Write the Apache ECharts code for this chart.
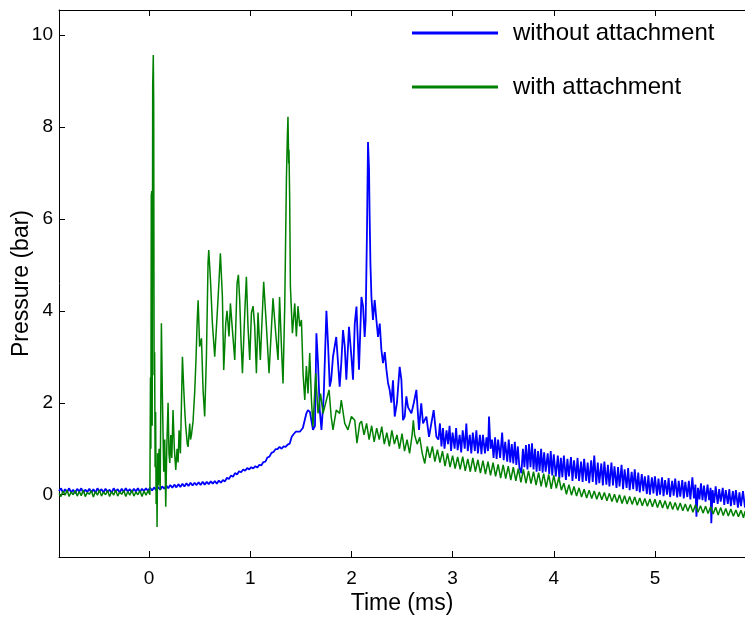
<!DOCTYPE html>
<html>
<head>
<meta charset="utf-8">
<script src="https://cdn.jsdelivr.net/npm/echarts@6/dist/echarts.min.js"></script>
<style>
html,body{margin:0;padding:0;background:#fff;}
#chart{width:745px;height:619px;}
</style>
</head>
<body>
<div id="chart"></div>
<script>
// ---- Data ----
const xTicks = [0, 1, 2, 3, 4, 5];
const yTicks = [0, 2, 4, 6, 8, 10];
const seriesNames = ['without attachment', 'with attachment'];

// without attachment (blue): [time ms, pressure bar]
const blueBaseline = [[-0.89,0.08],[-0.87,0.14],[-0.85,0.04],[-0.83,0.12],[-0.81,0.06],[-0.79,0.14],[-0.77,0.05],[-0.75,0.11],[-0.73,0.03],[-0.71,0.13],[-0.69,0.07],[-0.67,0.14],[-0.65,0.04],[-0.63,0.11],[-0.61,0.06],[-0.59,0.13],[-0.57,0.05],[-0.55,0.12],[-0.53,0.04],[-0.51,0.14],[-0.49,0.07],[-0.47,0.12],[-0.45,0.05],[-0.43,0.13],[-0.41,0.06],[-0.39,0.11],[-0.37,0.04],[-0.35,0.14],[-0.33,0.07],[-0.31,0.12],[-0.29,0.05],[-0.27,0.13],[-0.25,0.06],[-0.23,0.14],[-0.21,0.07],[-0.19,0.12],[-0.17,0.05],[-0.15,0.13],[-0.13,0.07],[-0.11,0.14],[-0.09,0.06],[-0.07,0.13],[-0.05,0.08],[-0.03,0.14],[-0.01,0.08]];
const blueRise = [[0.01,0.15],[0.03,0.09],[0.05,0.16],[0.07,0.1],[0.09,0.17],[0.11,0.11],[0.13,0.18],[0.15,0.13],[0.17,0.2],[0.19,0.14],[0.21,0.21],[0.23,0.15],[0.25,0.22],[0.27,0.16],[0.29,0.23],[0.31,0.17],[0.33,0.24],[0.35,0.18],[0.37,0.25],[0.39,0.19],[0.41,0.26],[0.43,0.2],[0.45,0.26],[0.47,0.21],[0.49,0.27],[0.51,0.21],[0.53,0.28],[0.55,0.22],[0.57,0.28],[0.59,0.23],[0.61,0.29],[0.63,0.24],[0.65,0.3],[0.67,0.24],[0.69,0.31],[0.71,0.26],[0.73,0.32],[0.75,0.29],[0.77,0.37],[0.79,0.34],[0.81,0.42],[0.83,0.39],[0.85,0.47],[0.87,0.44],[0.89,0.51],[0.91,0.49],[0.93,0.55],[0.95,0.52],[0.97,0.58],[0.99,0.55],[1.01,0.6],[1.03,0.57],[1.05,0.62],[1.07,0.59],[1.09,0.65],[1.11,0.64],[1.13,0.71],[1.15,0.72],[1.17,0.81],[1.19,0.83],[1.21,0.91],[1.23,0.93],[1.25,0.99],[1.27,0.99],[1.29,1.04],[1.31,1.0],[1.33,1.05],[1.35,1.04],[1.37,1.09],[1.39,1.11],[1.41,1.26],[1.43,1.32],[1.45,1.37],[1.47,1.37]];
const bluePeak = [[1.49,1.37],[1.52,1.45],[1.555,1.77],[1.57,1.84],[1.59,1.8],[1.62,1.41],[1.64,1.5],[1.654,3.51],[1.67,2.86],[1.687,1.84],[1.704,1.41],[1.726,2.13],[1.753,4.0],[1.77,3.23],[1.786,2.35],[1.8,2.5],[1.818,3.0],[1.85,3.43],[1.868,2.86],[1.884,2.35],[1.9,2.86],[1.917,3.58],[1.934,3.23],[1.95,2.5],[1.976,3.65],[2.0,3.0],[2.016,2.5],[2.033,3.72],[2.05,4.09],[2.075,2.72],[2.099,4.3],[2.115,4.1],[2.131,3.43],[2.141,3.8],[2.154,5.75],[2.164,7.67],[2.174,7.1],[2.18,6.08],[2.188,5.03],[2.198,4.3],[2.213,3.8],[2.23,4.23],[2.247,3.8],[2.263,3.43],[2.28,3.72],[2.296,3.16],[2.312,2.86],[2.33,3.1],[2.346,2.72],[2.362,2.43],[2.378,2.28],[2.395,2.0],[2.411,2.49],[2.428,1.7],[2.45,2.0],[2.477,2.78],[2.494,2.5],[2.51,1.62],[2.527,1.7],[2.543,2.14],[2.56,1.9],[2.593,1.77],[2.617,2.0],[2.642,2.28],[2.668,1.41],[2.69,1.99],[2.708,1.55],[2.741,1.7],[2.767,1.26],[2.79,1.55],[2.813,1.84],[2.84,1.26]];
const blueTail = [[2.86,1.2],[2.875,1.55],[2.89,1.05],[2.905,1.45],[2.92,1.0],[2.94,1.4],[2.955,1.1],[2.97,1.5],[2.985,0.95],[3.0,1.35],[3.02,1.0],[3.035,1.45],[3.05,0.97],[3.07,1.3],[3.085,0.92],[3.1,1.4],[3.12,1.0],[3.136,1.55],[3.15,0.95],[3.17,1.3],[3.185,0.9],[3.2,1.35],[3.22,0.95],[3.235,1.4],[3.25,0.9],[3.27,1.3],[3.285,0.88],[3.3,1.3],[3.32,0.9],[3.335,1.25],[3.35,0.95],[3.36,1.7],[3.375,1.0],[3.39,1.2],[3.405,0.8],[3.42,1.25],[3.435,0.78],[3.45,1.2],[3.47,0.8],[3.49,1.35],[3.505,0.75],[3.52,1.15],[3.54,0.72],[3.555,1.2],[3.57,0.7],[3.585,1.1],[3.6,0.68],[3.615,1.15],[3.63,0.65],[3.645,1.05],[3.66,0.6],[3.68,0.47],[3.695,1.0],[3.71,0.6],[3.725,1.08],[3.74,0.55],[3.755,1.1],[3.77,0.6],[3.785,1.12],[3.8,0.55],[3.815,1.0],[3.83,0.5],[3.845,0.95],[3.86,0.52],[3.875,1.0],[3.89,0.48],[3.905,0.92],[3.92,0.5],[3.94,0.9],[3.955,0.45],[3.97,0.95],[3.985,0.42],[4.0,0.88],[4.02,0.4],[4.04,0.85],[4.055,0.35],[4.07,0.8],[4.085,0.38],[4.1,0.85],[4.12,0.32],[4.135,0.78],[4.15,0.4],[4.17,0.82],[4.185,0.3],[4.2,0.75],[4.22,0.35],[4.235,0.8],[4.25,0.3],[4.27,0.72],[4.285,0.28],[4.3,0.78],[4.32,0.3],[4.335,0.7],[4.35,0.25],[4.37,0.75],[4.385,0.28],[4.4,0.85],[4.42,0.22],[4.435,0.7],[4.45,0.25],[4.47,0.68],[4.485,0.2],[4.5,0.72],[4.52,0.22],[4.535,0.65],[4.55,0.18],[4.57,0.7],[4.585,0.2],[4.6,0.62],[4.62,0.15],[4.635,0.6],[4.65,0.18],[4.67,0.65],[4.685,0.12],[4.7,0.55],[4.72,0.15],[4.735,0.58],[4.75,0.1],[4.77,0.5],[4.785,0.12],[4.8,0.55],[4.82,0.08],[4.835,0.48],[4.85,0.05],[4.87,0.45],[4.885,0.08],[4.9,0.4],[4.92,0.02],[4.935,0.42],[4.95,0.0],[4.97,0.38],[4.985,0.03],[5.0,0.4],[5.02,-0.02],[5.035,0.35],[5.05,0.0],[5.07,0.38],[5.085,-0.03],[5.1,0.32],[5.12,0.0],[5.135,0.36],[5.15,-0.05],[5.17,0.3],[5.185,-0.02],[5.2,0.35],[5.22,-0.06],[5.235,0.3],[5.25,-0.04],[5.27,0.32],[5.285,-0.08],[5.3,0.28],[5.32,-0.05],[5.335,0.3],[5.35,-0.1],[5.37,0.38],[5.385,-0.08],[5.4,0.22],[5.41,-0.48],[5.425,0.15],[5.44,-0.1],[5.455,0.25],[5.47,-0.12],[5.485,0.2],[5.5,-0.15],[5.52,0.22],[5.535,-0.12],[5.55,0.15],[5.557,-0.62],[5.57,0.1],[5.585,-0.18],[5.6,0.18],[5.62,-0.2],[5.635,0.12],[5.65,-0.15],[5.67,0.15],[5.685,-0.22],[5.7,0.1],[5.72,-0.2],[5.735,0.12],[5.75,-0.25],[5.77,0.08],[5.785,-0.22],[5.8,0.1],[5.82,-0.28],[5.835,0.05],[5.85,-0.25],[5.87,0.08],[5.89,-0.28]];

// with attachment (green): [time ms, pressure bar]
const greenBaseline = [[-0.89,0.03],[-0.87,-0.04],[-0.85,0.08],[-0.83,-0.01],[-0.81,0.1],[-0.79,-0.04],[-0.77,0.06],[-0.75,0.0],[-0.73,0.09],[-0.71,-0.03],[-0.69,0.07],[-0.67,-0.02],[-0.65,0.1],[-0.63,-0.04],[-0.61,0.05],[-0.59,0.01],[-0.57,0.09],[-0.55,-0.05],[-0.53,0.07],[-0.51,-0.01],[-0.49,0.1],[-0.47,-0.03],[-0.45,0.06],[-0.43,0.0],[-0.41,0.09],[-0.39,-0.04],[-0.37,0.07],[-0.35,-0.01],[-0.33,0.1],[-0.31,-0.03],[-0.29,0.06],[-0.27,0.01],[-0.25,0.09],[-0.23,-0.04],[-0.21,0.07],[-0.19,-0.01],[-0.17,0.1],[-0.15,-0.03],[-0.13,0.06],[-0.11,0.0],[-0.09,0.09],[-0.07,-0.04],[-0.05,0.08],[-0.03,-0.01],[-0.01,0.09]];
const greenBurst = [[0.0,0.06],[0.008,0.0],[0.014,2.55],[0.018,1.0],[0.022,6.5],[0.027,6.6],[0.031,1.5],[0.036,8.9],[0.042,9.56],[0.046,8.5],[0.05,2.6],[0.055,3.1],[0.06,0.6],[0.065,1.8],[0.07,-0.2],[0.075,0.6],[0.079,-0.7],[0.085,0.9],[0.092,0.2],[0.099,1.0],[0.11,0.1],[0.122,3.73],[0.132,2.13],[0.145,0.5],[0.155,1.2],[0.165,-0.26],[0.175,1.0],[0.188,2.0],[0.197,0.9],[0.205,0.69],[0.215,1.3],[0.225,0.8],[0.237,1.84],[0.25,1.0],[0.264,0.54],[0.277,1.0],[0.287,0.7],[0.297,1.4],[0.31,0.9],[0.33,3.0],[0.343,2.3],[0.353,1.84],[0.362,1.5],[0.37,1.3],[0.378,1.1],[0.386,1.04],[0.394,1.3],[0.402,1.55],[0.41,1.2],[0.419,1.3],[0.427,1.45],[0.435,1.6],[0.452,2.27],[0.465,3.0],[0.475,3.73],[0.485,4.23],[0.5,3.22],[0.518,3.4],[0.534,2.27],[0.55,1.7],[0.567,3.0],[0.583,5.03],[0.59,5.32],[0.607,4.67],[0.626,3.73],[0.649,3.0],[0.672,3.87],[0.692,4.67],[0.705,5.25],[0.725,4.3],[0.738,2.71],[0.758,3.73],[0.771,4.0],[0.79,3.44],[0.804,4.16],[0.824,3.58],[0.847,2.93],[0.87,4.6],[0.883,4.78],[0.896,4.23],[0.91,3.3],[0.923,2.64],[0.946,3.96],[0.962,4.74],[0.978,3.66],[0.995,2.93],[1.012,3.96],[1.028,4.1],[1.044,3.66],[1.061,2.64],[1.077,3.96],[1.1,2.93],[1.133,4.63],[1.16,3.66],[1.186,2.64],[1.225,4.27],[1.252,3.51],[1.275,2.93],[1.29,4.3],[1.311,3.08],[1.324,2.42],[1.341,4.1],[1.358,6.91],[1.367,7.8],[1.373,8.22],[1.38,7.2],[1.383,7.5],[1.39,6.42],[1.397,4.53],[1.417,3.51],[1.44,4.16],[1.456,3.44],[1.472,4.1],[1.489,3.66],[1.506,3.8],[1.522,2.64],[1.539,2.06],[1.555,2.8],[1.571,2.2],[1.588,3.08],[1.605,2.06],[1.62,1.48],[1.647,2.64],[1.67,1.77],[1.695,2.2],[1.72,1.77],[1.746,2.0],[1.779,2.28],[1.8,1.7],[1.818,1.41],[1.85,1.84],[1.884,1.77],[1.9,2.06],[1.934,1.55],[1.966,1.41],[2.0,1.7],[2.033,1.62],[2.055,1.12],[2.082,1.55]];
const greenTail = [[2.1,1.6],[2.125,1.3],[2.15,1.55],[2.175,1.2],[2.2,1.5],[2.225,1.15],[2.25,1.45],[2.275,1.2],[2.3,1.48],[2.325,1.1],[2.35,1.35],[2.375,1.05],[2.4,1.4],[2.425,1.1],[2.45,1.3],[2.475,1.0],[2.5,1.33],[2.525,0.95],[2.55,1.2],[2.575,0.9],[2.6,1.3],[2.612,1.62],[2.625,1.3],[2.65,1.1],[2.675,1.25],[2.7,0.9],[2.725,0.68],[2.75,1.05],[2.775,0.8],[2.8,1.05],[2.825,0.72],[2.85,0.98],[2.875,0.7],[2.9,0.95],[2.925,0.62],[2.95,0.9],[2.975,0.6],[3.0,0.85],[3.025,0.57],[3.05,0.82],[3.075,0.55],[3.1,0.83],[3.125,0.52],[3.15,0.78],[3.175,0.5],[3.2,0.8],[3.225,0.5],[3.25,0.76],[3.275,0.47],[3.3,0.74],[3.325,0.45],[3.35,0.72],[3.375,0.42],[3.4,0.7],[3.425,0.4],[3.45,0.66],[3.475,0.36],[3.5,0.65],[3.525,0.35],[3.55,0.62],[3.575,0.32],[3.6,0.6],[3.625,0.3],[3.65,0.57],[3.675,0.27],[3.7,0.55],[3.725,0.25],[3.75,0.52],[3.775,0.24],[3.8,0.5],[3.825,0.21],[3.85,0.48],[3.875,0.18],[3.9,0.46],[3.925,0.16],[3.95,0.44],[3.975,0.13],[4.0,0.42],[4.025,0.14],[4.05,0.38],[4.075,0.1],[4.1,0.25],[4.125,0.01],[4.15,0.22],[4.175,-0.01],[4.2,0.18],[4.225,-0.03],[4.25,0.15],[4.275,-0.05],[4.3,0.12],[4.325,-0.07],[4.35,0.1],[4.375,-0.08],[4.4,0.08],[4.425,-0.1],[4.45,0.06],[4.475,-0.11],[4.5,0.05],[4.525,-0.13],[4.55,0.03],[4.575,-0.15],[4.6,0.01],[4.625,-0.17],[4.65,0.0],[4.675,-0.19],[4.7,-0.02],[4.725,-0.2],[4.75,-0.04],[4.775,-0.21],[4.8,-0.05],[4.825,-0.23],[4.85,-0.07],[4.875,-0.24],[4.9,-0.08],[4.925,-0.25],[4.95,-0.09],[4.975,-0.26],[5.0,-0.1],[5.025,-0.28],[5.05,-0.12],[5.075,-0.29],[5.1,-0.13],[5.125,-0.31],[5.15,-0.15],[5.175,-0.32],[5.2,-0.17],[5.225,-0.34],[5.25,-0.18],[5.275,-0.35],[5.3,-0.2],[5.325,-0.36],[5.35,-0.21],[5.375,-0.38],[5.4,-0.22],[5.425,-0.38],[5.45,-0.24],[5.475,-0.4],[5.5,-0.25],[5.525,-0.41],[5.55,-0.26],[5.575,-0.42],[5.6,-0.27],[5.625,-0.44],[5.65,-0.28],[5.675,-0.45],[5.7,-0.3],[5.725,-0.46],[5.75,-0.31],[5.775,-0.47],[5.8,-0.33],[5.825,-0.48],[5.85,-0.34],[5.875,-0.5],[5.89,-0.36]];

const withoutAttachment = blueBaseline.concat(blueRise, bluePeak, blueTail);
const withAttachment = greenBaseline.concat(greenBurst, greenTail);

// ---- Chart ----
const FONT = 'Liberation Sans, Arial, Helvetica, sans-serif';
const chart = echarts.init(document.getElementById('chart'), null, {renderer: 'canvas'});
const axisLineStyle = {color: '#000', width: 1};
chart.setOption({
  animation: false,
  backgroundColor: '#fff',
  grid: {left: 59, top: 10, right: 0, bottom: 62, containLabel: false, outerBoundsMode: 'none'},
  legend: {
    orient: 'vertical',
    left: 412,
    top: 21,
    padding: 0,
    itemWidth: 86,
    itemHeight: 3,
    itemGap: 30,
    icon: 'rect',
    data: seriesNames,
    textStyle: {fontFamily: FONT, fontSize: 24, color: '#000', padding: [0, 0, 0, 10]}
  },
  xAxis: [{
    type: 'value', min: -0.89, max: 5.89, position: 'bottom',
    name: 'Time (ms)', nameLocation: 'middle', nameGap: 35, nameMoveOverlap: false,
    nameTextStyle: {fontFamily: FONT, fontSize: 23, color: '#000'},
    splitLine: {show: false},
    axisLine: {show: true, onZero: false, lineStyle: axisLineStyle},
    axisTick: {show: true, inside: true, length: 6, lineStyle: axisLineStyle, customValues: xTicks},
    axisLabel: {fontFamily: FONT, fontSize: 19, color: '#000', margin: 12, customValues: xTicks}
  }, {
    type: 'value', min: -0.89, max: 5.89, position: 'top',
    splitLine: {show: false},
    axisLine: {show: true, onZero: false, lineStyle: axisLineStyle},
    axisTick: {show: true, inside: true, length: 6, lineStyle: axisLineStyle, customValues: xTicks},
    axisLabel: {show: false}
  }],
  yAxis: [{
    type: 'value', min: -1.354, max: 10.54, position: 'left',
    name: 'Pressure (bar)', nameLocation: 'middle', nameGap: 26, nameMoveOverlap: false,
    nameTextStyle: {fontFamily: FONT, fontSize: 23, color: '#000'},
    splitLine: {show: false},
    axisLine: {show: true, onZero: false, lineStyle: axisLineStyle},
    axisTick: {show: true, inside: true, length: 6, lineStyle: axisLineStyle, customValues: yTicks},
    axisLabel: {fontFamily: FONT, fontSize: 19, color: '#000', margin: 6, customValues: yTicks}
  }],
  series: [{
    name: seriesNames[0], type: 'line', data: withoutAttachment,
    showSymbol: false, symbol: 'none',
    color: '#0000ff', lineStyle: {color: '#0000ff', width: 1.8}, z: 2
  }, {
    name: seriesNames[1], type: 'line', data: withAttachment,
    showSymbol: false, symbol: 'none',
    color: '#008000', lineStyle: {color: '#008000', width: 1.5}, z: 3
  }]
});
</script>
</body>
</html>
